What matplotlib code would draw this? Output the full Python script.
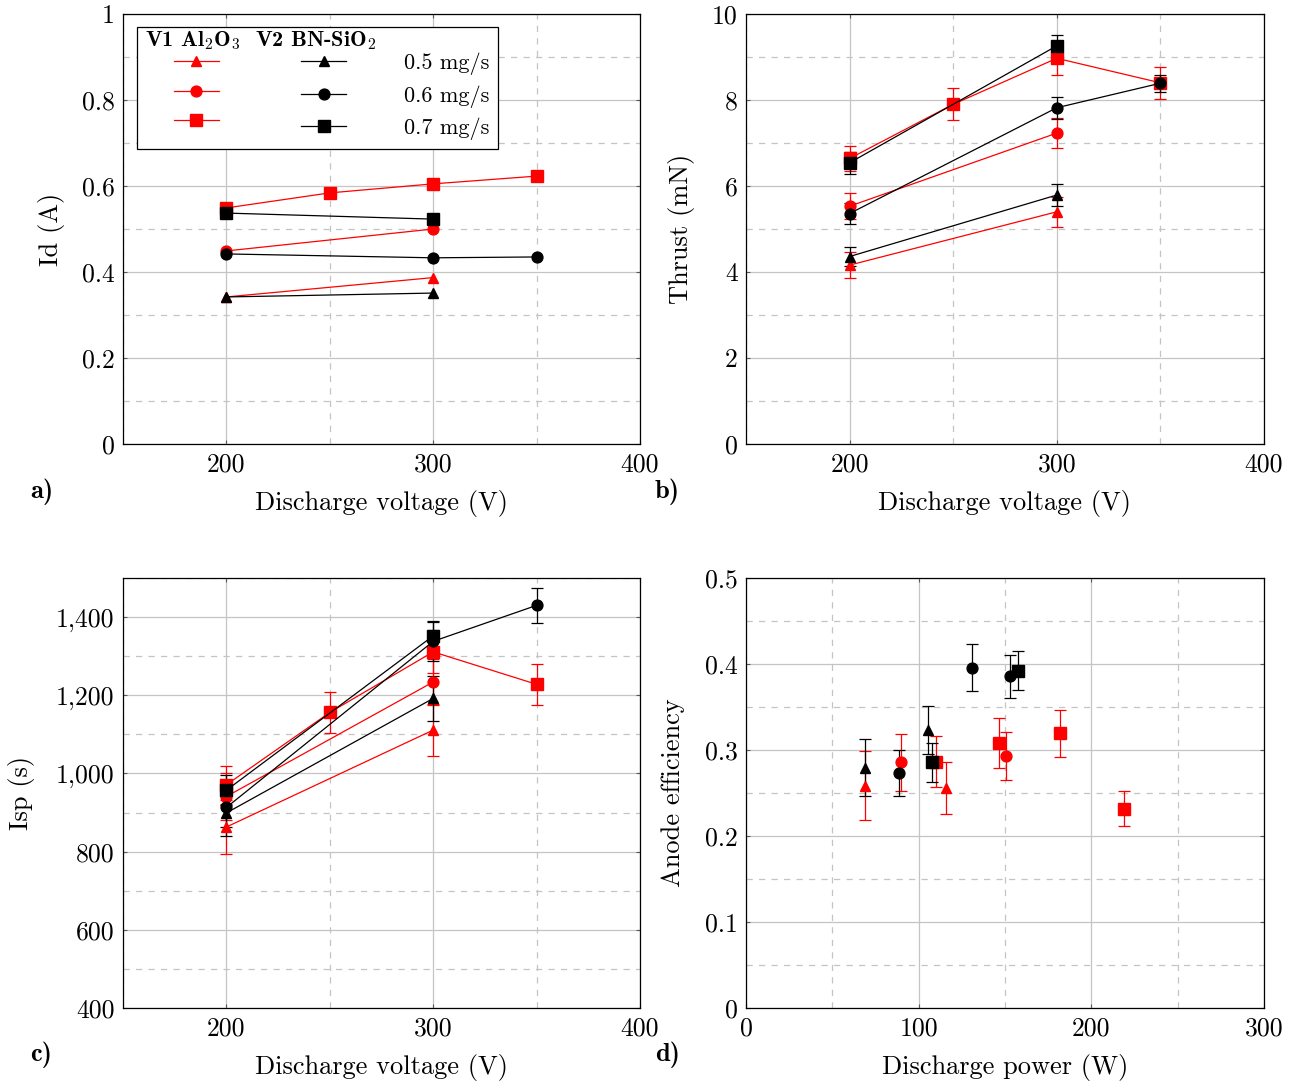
import matplotlib
matplotlib.use("Agg")
import matplotlib.pyplot as plt
from matplotlib.ticker import MultipleLocator, FuncFormatter
from matplotlib.lines import Line2D
from matplotlib.offsetbox import DrawingArea

plt.rcParams['font.family'] = ['cmr10', 'DejaVu Serif']
plt.rcParams['mathtext.fontset'] = 'cm'
plt.rcParams['axes.formatter.use_mathtext'] = True
plt.rcParams['axes.unicode_minus'] = False

# discharge voltages of each series
v_v1_05 = [200, 300]
v_v1_06 = [200, 300]
v_v1_07 = [200, 250, 300, 350]
v_v2_05 = [200, 300]
v_v2_06 = [200, 300, 350]
v_v2_07 = [200, 300]

# a) discharge current (A)
id_v1_05 = [0.342, 0.387]
id_v1_06 = [0.449, 0.500]
id_v1_07 = [0.549, 0.584, 0.605, 0.623]
id_v2_05 = [0.342, 0.351]
id_v2_06 = [0.442, 0.433, 0.435]
id_v2_07 = [0.537, 0.523]

# b) thrust (mN) and error
thr_v1_05 = [4.16, 5.40]
thr_v1_06 = [5.53, 7.23]
thr_v1_07 = [6.64, 7.90, 8.97, 8.40]
thr_v2_05 = [4.36, 5.79]
thr_v2_06 = [5.36, 7.82, 8.39]
thr_v2_07 = [6.54, 9.26]
thr_err_v1_05 = [0.30, 0.35]
thr_err_v1_06 = [0.30, 0.35]
thr_err_v1_07 = [0.30, 0.37, 0.38, 0.37]
thr_err_v2_05 = [0.23, 0.25]
thr_err_v2_06 = [0.25, 0.26, 0.20]
thr_err_v2_07 = [0.25, 0.25]

# c) specific impulse (s) and error
isp_v1_05 = [863, 1111]
isp_v1_06 = [941, 1234]
isp_v1_07 = [971, 1156, 1311, 1228]
isp_v2_05 = [899, 1192]
isp_v2_06 = [913, 1338, 1430]
isp_v2_07 = [957, 1352]
isp_err_v1_05 = [68, 66]
isp_err_v1_06 = [60, 60]
isp_err_v1_07 = [49, 53, 55, 53]
isp_err_v2_05 = [58, 58]
isp_err_v2_06 = [50, 50, 45]
isp_err_v2_07 = [38, 37]

# d) discharge power (W), anode efficiency and error
pw_v1_05 = [68.8, 116.1]
pw_v1_06 = [89.9, 150.4]
pw_v1_07 = [110.3, 146.7, 182.0, 218.8]
pw_v2_05 = [68.8, 105.4]
pw_v2_06 = [88.6, 130.6, 152.9]
pw_v2_07 = [108.0, 157.8]
eff_v1_05 = [0.2585, 0.2555]
eff_v1_06 = [0.2857, 0.293]
eff_v1_07 = [0.2864, 0.3078, 0.3194, 0.2318]
eff_v2_05 = [0.2794, 0.3233]
eff_v2_06 = [0.273, 0.3957, 0.386]
eff_v2_07 = [0.2857, 0.3922]
eff_err_v1_05 = [0.040, 0.030]
eff_err_v1_06 = [0.033, 0.028]
eff_err_v1_07 = [0.030, 0.029, 0.027, 0.020]
eff_err_v2_05 = [0.033, 0.028]
eff_err_v2_06 = [0.027, 0.027, 0.025]
eff_err_v2_07 = [0.023, 0.023]

flows = ['0.5 mg/s', '0.6 mg/s', '0.7 mg/s']

RED = '#ff0000'
LW = 0.9
styles = [(RED, '^'), (RED, 'o'), (RED, 's'), ('black', '^'), ('black', 'o'), ('black', 's')]
msize = {'^': 7.6, 'o': 7.8, 's': 8.4}

volts = [v_v1_05, v_v1_06, v_v1_07, v_v2_05, v_v2_06, v_v2_07]
ids = [id_v1_05, id_v1_06, id_v1_07, id_v2_05, id_v2_06, id_v2_07]
thrs = [thr_v1_05, thr_v1_06, thr_v1_07, thr_v2_05, thr_v2_06, thr_v2_07]
thr_errs = [thr_err_v1_05, thr_err_v1_06, thr_err_v1_07, thr_err_v2_05, thr_err_v2_06, thr_err_v2_07]
isps = [isp_v1_05, isp_v1_06, isp_v1_07, isp_v2_05, isp_v2_06, isp_v2_07]
isp_errs = [isp_err_v1_05, isp_err_v1_06, isp_err_v1_07, isp_err_v2_05, isp_err_v2_06, isp_err_v2_07]
pws = [pw_v1_05, pw_v1_06, pw_v1_07, pw_v2_05, pw_v2_06, pw_v2_07]
effs = [eff_v1_05, eff_v1_06, eff_v1_07, eff_v2_05, eff_v2_06, eff_v2_07]
eff_errs = [eff_err_v1_05, eff_err_v1_06, eff_err_v1_07, eff_err_v2_05, eff_err_v2_06, eff_err_v2_07]

fig = plt.figure(figsize=(12.98, 10.82), dpi=100)
W, H = 1298, 1082


def px_axes(x0, y0, x1, y1):
    return fig.add_axes([x0 / W, 1 - y1 / H, (x1 - x0) / W, (y1 - y0) / H])


ax_a = px_axes(123, 14, 640, 444)
ax_b = px_axes(746, 14, 1264, 444)
ax_c = px_axes(123, 578, 640, 1008)
ax_d = px_axes(746, 578, 1264, 1008)

TICK_FS = 18.5
LABEL_FS = 19


def style_axes(ax, xmaj, xmin, ymaj, ymin, fmt):
    ax.xaxis.set_major_locator(MultipleLocator(xmaj))
    ax.xaxis.set_minor_locator(MultipleLocator(xmin))
    ax.yaxis.set_major_locator(MultipleLocator(ymaj))
    ax.yaxis.set_minor_locator(MultipleLocator(ymin))
    ax.yaxis.set_major_formatter(FuncFormatter(fmt))
    ax.xaxis.set_major_formatter(FuncFormatter(lambda v, p: '%g' % v))
    ax.grid(True, which='major', color='#c4c4c4', lw=0.9, ls='-')
    ax.grid(True, which='minor', color='#c4c4c4', lw=0.9, ls=(0, (5, 5)))
    ax.set_axisbelow(True)
    ax.tick_params(which='major', direction='in', length=3, width=0.8, color='0.35',
                   labelsize=TICK_FS, top=True, right=True, pad=6)
    ax.tick_params(which='minor', length=0)
    for s in ax.spines.values():
        s.set_linewidth(0.9)


g = lambda v, p: '%g' % round(v, 4)
comma = lambda v, p: '{:,.0f}'.format(v)

# a) discharge current
for (c, m), x, y in zip(styles, volts, ids):
    ax_a.plot(x, y, color=c, marker=m, ms=msize[m], lw=LW)
ax_a.set_xlim(150, 400)
ax_a.set_ylim(0, 1)
style_axes(ax_a, 100, 50, 0.2, 0.1, g)
ax_a.set_ylabel('Id (A)', fontsize=LABEL_FS, labelpad=12)
ax_a.set_xlabel('Discharge voltage (V)', fontsize=LABEL_FS, labelpad=10)

# legend: red column, black column with flow labels
LEG_FS = 16
red_h = [Line2D([], [], color=RED, marker=m, ms=msize[m], lw=LW) for m in ['^', 'o', 's']]
blk_h = [Line2D([], [], color='black', marker=m, ms=msize[m], lw=LW) for m in ['^', 'o', 's']]
leg = ax_a.legend(red_h + blk_h, ['', '', ''] + flows, ncol=2, loc='upper left',
                  bbox_to_anchor=(0.027, 0.970), borderaxespad=0, fontsize=LEG_FS,
                  handlelength=2.05, handletextpad=2.6, columnspacing=1.08,
                  labelspacing=0.45, borderpad=0.38,
                  title='V1 Al$_2$O$_3$  V2 BN-SiO$_2$', alignment='left',
                  title_fontproperties={'family': 'cmb10', 'size': LEG_FS},
                  fancybox=False, framealpha=1, edgecolor='black')
leg.get_frame().set_linewidth(0.9)
# indent the entries under the header, tighten header gap
leg._legend_handle_box.get_children().insert(0, DrawingArea(3, 1))
leg._legend_box.sep = -4
leg.get_title().set_y(6)

# b) thrust
for (c, m), x, y, e in zip(styles, volts, thrs, thr_errs):
    ax_b.errorbar(x, y, yerr=e, color=c, marker=m, ms=msize[m], lw=LW, elinewidth=LW,
                  capsize=4, capthick=LW)
ax_b.set_xlim(150, 400)
ax_b.set_ylim(0, 10)
style_axes(ax_b, 100, 50, 2, 1, g)
ax_b.set_ylabel('Thrust (mN)', fontsize=LABEL_FS, labelpad=12)
ax_b.set_xlabel('Discharge voltage (V)', fontsize=LABEL_FS, labelpad=10)

# c) specific impulse
for (c, m), x, y, e in zip(styles, volts, isps, isp_errs):
    ax_c.errorbar(x, y, yerr=e, color=c, marker=m, ms=msize[m], lw=LW, elinewidth=LW,
                  capsize=4, capthick=LW)
ax_c.set_xlim(150, 400)
ax_c.set_ylim(400, 1500)
style_axes(ax_c, 100, 50, 200, 100, comma)
ax_c.set_ylabel('Isp (s)', fontsize=LABEL_FS, labelpad=15)
ax_c.set_xlabel('Discharge voltage (V)', fontsize=LABEL_FS, labelpad=10)

# d) anode efficiency vs power
for (c, m), x, y, e in zip(styles, pws, effs, eff_errs):
    ax_d.errorbar(x, y, yerr=e, color=c, marker=m, ms=msize[m], ls='none', elinewidth=LW,
                  capsize=4, capthick=LW)
ax_d.set_xlim(0, 300)
ax_d.set_ylim(0, 0.5)
style_axes(ax_d, 100, 50, 0.1, 0.05, g)
ax_d.set_ylabel('Anode efficiency', fontsize=LABEL_FS, labelpad=14)
ax_d.set_xlabel('Discharge power (W)', fontsize=LABEL_FS, labelpad=10)

# panel letters
for lab, x, y in [('a)', 30, 492), ('b)', 655, 492), ('c)', 30, 1055), ('d)', 655, 1055)]:
    fig.text(x / W, 1 - y / H, lab, fontsize=LABEL_FS, family='cmb10', va='center')

fig.savefig('out.png', dpi=100)
